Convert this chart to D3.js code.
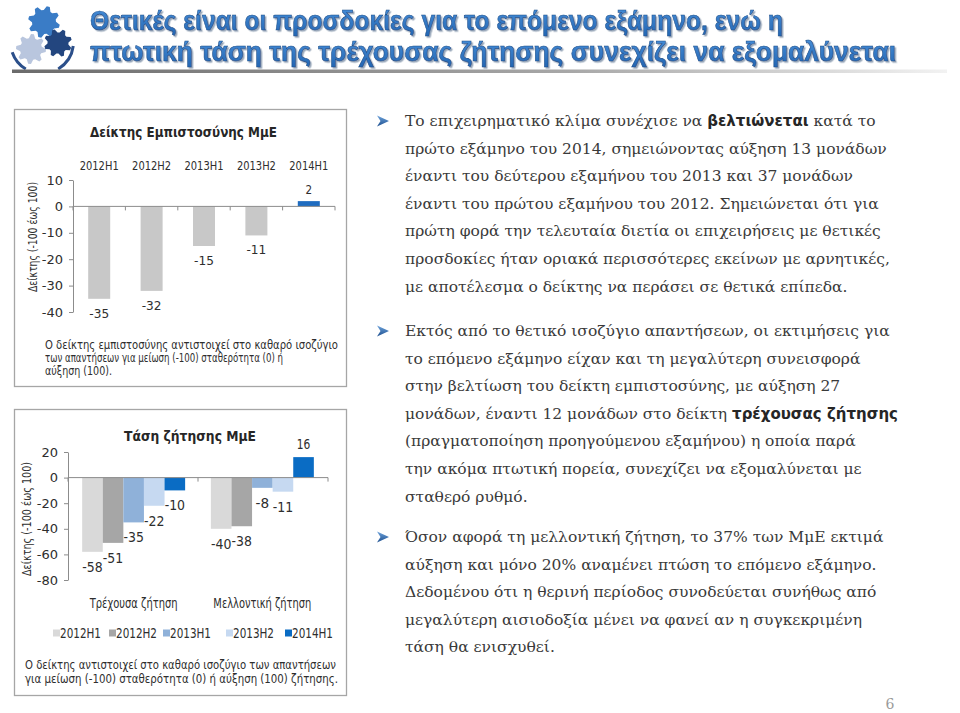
<!DOCTYPE html>
<html>
<head>
<meta charset="utf-8">
<script src="https://cdn.jsdelivr.net/npm/d3@7"></script>
<style>
  html, body { margin: 0; padding: 0; background: #fff; }
  svg { display: block; }
</style>
</head>
<body>
<script>
// ---------------- DATA ----------------
const periods = ["2012H1", "2012H2", "2013H1", "2013H2", "2014H1"];
const confidenceValues = [-35, -32, -15, -11, 2];
const confidenceTicks = [10, 0, -10, -20, -30, -40];

const demandGroups = ["Τρέχουσα ζήτηση", "Μελλοντική ζήτηση"];
const currentDemand = [-58, -51, -35, -22, -10];
const futureDemand = [-40, -38, -8, -11, 16];
const demandTicks = [20, 0, -20, -40, -60, -80];

const headerLines = [
  "Θετικές είναι οι προσδοκίες για το επόμενο εξάμηνο, ενώ η",
  "πτωτική τάση της τρέχουσας ζήτησης συνεχίζει να εξομαλύνεται"
];
const confidenceTitle = "Δείκτης Εμπιστοσύνης ΜμΕ";
const demandTitle = "Τάση ζήτησης ΜμΕ";
const yAxisTitle = "Δείκτης (-100 έως 100)";
const confidenceNote = [
  "Ο δείκτης εμπιστοσύνης αντιστοιχεί στο καθαρό ισοζύγιο",
  "των απαντήσεων για μείωση (-100) σταθερότητα (0) ή",
  "αύξηση (100)."
];
const demandNote = [
  "Ο δείκτης αντιστοιχεί στο καθαρό ισοζύγιο των απαντήσεων",
  "για μείωση (-100) σταθερότητα (0) ή  αύξηση (100) ζήτησης."
];
// body paragraphs: each line is a list of [text, bold]
const paragraphs = [
  [
    [["Το επιχειρηματικό κλίμα συνέχισε να ", false], ["βελτιώνεται", true], [" κατά το", false]],
    [["πρώτο εξάμηνο του 2014, σημειώνοντας αύξηση 13 μονάδων", false]],
    [["έναντι του δεύτερου εξαμήνου του 2013 και 37 μονάδων", false]],
    [["έναντι του πρώτου εξαμήνου του 2012. Σημειώνεται ότι για", false]],
    [["πρώτη φορά την τελευταία διετία οι επιχειρήσεις με θετικές", false]],
    [["προσδοκίες ήταν οριακά περισσότερες εκείνων με αρνητικές,", false]],
    [["με αποτέλεσμα ο δείκτης να περάσει σε θετικά επίπεδα.", false]]
  ],
  [
    [["Εκτός από το θετικό ισοζύγιο απαντήσεων, οι εκτιμήσεις για", false]],
    [["το επόμενο εξάμηνο είχαν και τη μεγαλύτερη συνεισφορά", false]],
    [["στην βελτίωση του δείκτη εμπιστοσύνης, με αύξηση 27", false]],
    [["μονάδων, έναντι 12 μονάδων στο δείκτη ", false], ["τρέχουσας ζήτησης", true]],
    [["(πραγματοποίηση προηγούμενου εξαμήνου) η οποία παρά", false]],
    [["την ακόμα πτωτική πορεία, συνεχίζει να εξομαλύνεται με", false]],
    [["σταθερό ρυθμό.", false]]
  ],
  [
    [["Όσον αφορά τη μελλοντική ζήτηση, το 37% των ΜμΕ εκτιμά", false]],
    [["αύξηση και μόνο 20% αναμένει πτώση το επόμενο εξάμηνο.", false]],
    [["Δεδομένου ότι η θερινή περίοδος συνοδεύεται συνήθως από", false]],
    [["μεγαλύτερη αισιοδοξία μένει να φανεί αν η συγκεκριμένη", false]],
    [["τάση θα ενισχυθεί.", false]]
  ]
];
const pageNumber = "6";

// ---------------- STYLE ----------------
const confidenceColors = ["#c8c8c8", "#c8c8c8", "#c8c8c8", "#c8c8c8", "#1f6cc0"];
const periodColors = ["#d9d9d9", "#a6a6a6", "#8fb1d9", "#c6d9f1", "#0a6cc4"];
const axisColor = "#8c8c8c";
const textColor = "#2e2e2e";
const sans = "'DejaVu Sans', Verdana, sans-serif";

const W = 960, H = 713;
const svg = d3.select("body").append("svg").attr("width", W).attr("height", H);
svg.append("rect").attr("width", W).attr("height", H).attr("fill", "#fff");

const defs = svg.append("defs");
const lg = defs.append("linearGradient").attr("id", "rule").attr("x1", "0").attr("x2", "1");
lg.append("stop").attr("offset", "0").attr("stop-color", "#6b6b6b");
lg.append("stop").attr("offset", "0.6").attr("stop-color", "#a8a8a8");
lg.append("stop").attr("offset", "1").attr("stop-color", "#f2f2f2");
const ag = defs.append("linearGradient").attr("id", "arrowg").attr("x1", "0").attr("x2", "0").attr("y1", "0").attr("y2", "1");
ag.append("stop").attr("offset", "0").attr("stop-color", "#6fa4dc");
ag.append("stop").attr("offset", "1").attr("stop-color", "#1d4f8f");
const hg = defs.append("linearGradient").attr("id", "headg").attr("x1", "0").attr("x2", "0").attr("y1", "0").attr("y2", "1");
hg.append("stop").attr("offset", "0").attr("stop-color", "#4a92dc");
hg.append("stop").attr("offset", "1").attr("stop-color", "#2466b2");
const sh = defs.append("filter").attr("id", "hshadow").attr("x", "-5%").attr("y", "-20%").attr("width", "110%").attr("height", "150%");
sh.append("feDropShadow").attr("dx", 1.5).attr("dy", 1.5).attr("stdDeviation", 0.6)
  .attr("flood-color", "#8a9bb0").attr("flood-opacity", 0.9);

// ---------------- HEADER ----------------
function gearPath(r1, r2, teeth) {
  const pts = [];
  const n = teeth * 4;
  for (let i = 0; i < n; i++) {
    const a = (i / n) * Math.PI * 2;
    const r = (i % 4 === 0 || i % 4 === 1) ? r1 : r2;
    pts.push([Math.cos(a) * r, Math.sin(a) * r]);
  }
  return d3.line().curve(d3.curveLinearClosed)(pts);
}
const logo = svg.append("g");
logo.append("path").attr("d", gearPath(16, 12, 8)).attr("transform", "translate(44,22) rotate(10)").attr("fill", "#3a7cc6");
logo.append("path").attr("d", gearPath(15, 11, 8)).attr("transform", "translate(31,49)").attr("fill", "#b9c6de");
logo.append("path").attr("d", gearPath(14, 10.5, 8)).attr("transform", "translate(58,43) rotate(20)").attr("fill", "#23467f");
logo.append("path").attr("d", d3.arc()({innerRadius: 30, outerRadius: 33, startAngle: -2.6, endAngle: -1.9}))
  .attr("transform", "translate(42,42)").attr("fill", "#2b4f8a");
logo.append("path").attr("d", d3.arc()({innerRadius: 30, outerRadius: 33, startAngle: 1.7, endAngle: 2.6}))
  .attr("transform", "translate(42,42)").attr("fill", "#2b4f8a");

svg.append("rect").attr("x", 12).attr("y", 69.5).attr("width", 935).attr("height", 3.5).attr("fill", "url(#rule)");
const headerG = svg.append("g").attr("filter", "url(#hshadow)");
const headerWidths = [693, 806];
const headerY = [30, 61];
headerLines.forEach((line, i) => {
  headerG.append("text").attr("x", 90).attr("y", headerY[i])
    .attr("font-family", "'Liberation Sans Narrow', 'Liberation Sans', Arial, sans-serif")
    .attr("font-weight", "bold").attr("font-size", 28.5)
    .attr("textLength", headerWidths[i]).attr("lengthAdjust", "spacingAndGlyphs")
    .attr("fill", "url(#headg)").attr("stroke", "#1a4b86").attr("stroke-width", 0.6).text(line);
});

// ---------------- CHART 1: confidence ----------------
const c1 = svg.append("g");
c1.append("rect").attr("x", 14.5).attr("y", 109.5).attr("width", 332).attr("height", 277)
  .attr("fill", "#fff").attr("stroke", "#a6a6a6").attr("stroke-width", 1.3);
c1.append("text").attr("x", 90).attr("y", 137).attr("font-family", sans).attr("font-size", 14)
  .attr("font-weight", "bold").attr("fill", "#262626")
  .attr("textLength", 187).attr("lengthAdjust", "spacingAndGlyphs").text(confidenceTitle);

const x1 = d3.scaleBand().domain(periods).range([73, 335]).paddingInner(0.58).paddingOuter(0.29);
const y1 = d3.scaleLinear().domain([-40, 10]).range([312, 180]);
const conf = periods.map((p, i) => ({p, v: confidenceValues[i], c: confidenceColors[i]}));

const yAx1 = c1.append("g").attr("transform", "translate(73,0)")
  .call(d3.axisLeft(y1).tickValues(confidenceTicks).tickSize(4).tickSizeOuter(0).tickFormat(d => String(d)));
yAx1.selectAll("path,line").attr("stroke", axisColor);
yAx1.selectAll("text").attr("x", -10).attr("font-family", sans).attr("font-size", 13).attr("fill", textColor);

c1.selectAll("rect.bar").data(conf).join("rect").attr("class", "bar")
  .attr("x", d => x1(d.p)).attr("width", x1.bandwidth())
  .attr("y", d => Math.min(y1(d.v), y1(0))).attr("height", d => Math.abs(y1(d.v) - y1(0)))
  .attr("fill", d => d.c);

// zero line with category-boundary ticks
const zeroY1 = y1(0);
c1.append("line").attr("x1", x1.range()[0]).attr("x2", x1.range()[1]).attr("y1", zeroY1).attr("y2", zeroY1).attr("stroke", axisColor);
c1.selectAll("line.bt").data(d3.range(periods.length + 1)).join("line").attr("class", "bt")
  .attr("x1", i => x1.range()[0] + i * x1.step()).attr("x2", i => x1.range()[0] + i * x1.step())
  .attr("y1", zeroY1).attr("y2", zeroY1 + 4).attr("stroke", axisColor);

// category labels at top
const xAx1 = c1.append("g").attr("transform", "translate(0,170)")
  .call(d3.axisTop(x1).tickSize(0).tickPadding(0));
xAx1.select(".domain").remove();
xAx1.selectAll("text").attr("font-family", sans).attr("font-size", 13).attr("fill", textColor)
  .attr("dy", 0).attr("textLength", 39).attr("lengthAdjust", "spacingAndGlyphs");

// data labels
c1.selectAll("text.dl").data(conf).join("text").attr("class", "dl")
  .attr("x", d => x1(d.p) + x1.bandwidth() / 2)
  .attr("y", d => d.v < 0 ? y1(d.v) + 19 : y1(d.v) - 7)
  .attr("text-anchor", "middle").attr("font-family", sans).attr("font-size", 13).attr("fill", textColor)
  .attr("textLength", d => String(d.v).length * 6.6).attr("lengthAdjust", "spacingAndGlyphs")
  .text(d => d.v);

c1.append("text").attr("transform", "translate(37,237) rotate(-90)").attr("text-anchor", "middle")
  .attr("font-family", sans).attr("font-size", 13).attr("fill", textColor)
  .attr("textLength", 110).attr("lengthAdjust", "spacingAndGlyphs").text(yAxisTitle);

const note1W = [293, 238, 67];
confidenceNote.forEach((l, i) => {
  c1.append("text").attr("x", 45).attr("y", 349 + i * 13)
    .attr("font-family", sans).attr("font-size", 11.5).attr("fill", textColor)
    .attr("textLength", note1W[i]).attr("lengthAdjust", "spacingAndGlyphs").text(l);
});

// ---------------- CHART 2: demand ----------------
const c2 = svg.append("g");
c2.append("rect").attr("x", 14.5).attr("y", 409.5).attr("width", 332).attr("height", 286)
  .attr("fill", "#fff").attr("stroke", "#a6a6a6").attr("stroke-width", 1.3);
c2.append("text").attr("x", 124).attr("y", 441).attr("font-family", sans).attr("font-size", 14)
  .attr("font-weight", "bold").attr("fill", "#262626")
  .attr("textLength", 132).attr("lengthAdjust", "spacingAndGlyphs").text(demandTitle);

const x0 = d3.scaleBand().domain(demandGroups).range([68, 328]).paddingInner(0.2).paddingOuter(0.11);
const xs = d3.scaleBand().domain(periods).range([0, x0.bandwidth()]);
const y2 = d3.scaleLinear().domain([-80, 20]).range([580, 452]);
const demand = [currentDemand, futureDemand].map((vals, g) => ({
  g: demandGroups[g],
  items: periods.map((p, i) => ({p, v: vals[i], c: periodColors[i]}))
}));

const yAx2 = c2.append("g").attr("transform", "translate(68,0)")
  .call(d3.axisLeft(y2).tickValues(demandTicks).tickSize(4).tickSizeOuter(0).tickFormat(d => String(d)));
yAx2.selectAll("path,line").attr("stroke", axisColor);
yAx2.selectAll("text").attr("x", -10).attr("font-family", sans).attr("font-size", 13).attr("fill", textColor);

const grp = c2.selectAll("g.grp").data(demand).join("g").attr("class", "grp")
  .attr("transform", d => `translate(${x0(d.g)},0)`);
grp.selectAll("rect").data(d => d.items).join("rect")
  .attr("x", d => xs(d.p)).attr("width", xs.bandwidth())
  .attr("y", d => Math.min(y2(d.v), y2(0))).attr("height", d => Math.abs(y2(d.v) - y2(0)))
  .attr("fill", d => d.c);
grp.selectAll("text").data(d => d.items).join("text")
  .attr("x", d => xs(d.p) + xs.bandwidth() / 2)
  .attr("y", d => d.v < 0 ? y2(d.v) + 20 : y2(d.v) - 8)
  .attr("text-anchor", "middle").attr("font-family", sans).attr("font-size", 13.5).attr("fill", textColor)
  .attr("textLength", d => String(d.v).length * 6.8).attr("lengthAdjust", "spacingAndGlyphs")
  .text(d => d.v);

const zeroY2 = y2(0);
c2.append("line").attr("x1", x0.range()[0]).attr("x2", x0.range()[1]).attr("y1", zeroY2).attr("y2", zeroY2).attr("stroke", axisColor);
c2.selectAll("line.bt").data(d3.range(demandGroups.length + 1)).join("line").attr("class", "bt")
  .attr("x1", i => x0.range()[0] + i * (x0.range()[1] - x0.range()[0]) / demandGroups.length)
  .attr("x2", i => x0.range()[0] + i * (x0.range()[1] - x0.range()[0]) / demandGroups.length)
  .attr("y1", zeroY2).attr("y2", zeroY2 + 4).attr("stroke", axisColor);

const xAx2 = c2.append("g").attr("transform", "translate(0,608)")
  .call(d3.axisBottom(x0).tickSize(0).tickPadding(0));
xAx2.select(".domain").remove();
xAx2.selectAll("text").attr("font-family", sans).attr("font-size", 13.5).attr("fill", textColor)
  .attr("dy", 0)
  .attr("textLength", (d, i) => [88, 98][i]).attr("lengthAdjust", "spacingAndGlyphs");

// legend
const legendX = [53, 109, 163, 226, 285];
const leg = c2.selectAll("g.leg").data(periods).join("g").attr("class", "leg")
  .attr("transform", (d, i) => `translate(${legendX[i]},633)`);
leg.append("rect").attr("x", 0).attr("y", -3.5).attr("width", 7).attr("height", 7)
  .attr("fill", (d, i) => periodColors[i]);
leg.append("text").attr("x", 7).attr("y", 5).attr("font-family", sans).attr("font-size", 13.5)
  .attr("fill", textColor).attr("textLength", 41).attr("lengthAdjust", "spacingAndGlyphs").text(d => d);

c2.append("text").attr("transform", "translate(31,519) rotate(-90)").attr("text-anchor", "middle")
  .attr("font-family", sans).attr("font-size", 13).attr("fill", textColor)
  .attr("textLength", 114).attr("lengthAdjust", "spacingAndGlyphs").text(yAxisTitle);

const note2W = [311, 313];
demandNote.forEach((l, i) => {
  c2.append("text").attr("x", 25).attr("y", 669 + i * 13.5)
    .attr("font-family", sans).attr("font-size", 11.5).attr("fill", textColor)
    .attr("textLength", note2W[i]).attr("lengthAdjust", "spacingAndGlyphs").text(l);
});

// ---------------- BODY TEXT ----------------
const body = svg.append("g");
const paraTop = [126, 336, 542];
const lineH = 27.6;
paragraphs.forEach((para, pi) => {
  const yb = paraTop[pi];
  body.append("path").attr("d", "M0,-5.5 L12,0 L0,5.5 L3.5,0 Z")
    .attr("transform", `translate(377,${yb - 5})`).attr("fill", "url(#arrowg)");
  para.forEach((segs, li) => {
    const t = body.append("text").attr("x", 405).attr("y", yb + li * lineH)
      .attr("font-family", "'DejaVu Serif', 'Liberation Serif', serif").attr("font-size", 15.5)
      .attr("fill", "#3a3a3a");
    segs.forEach(([s, b]) => {
      const ts = t.append("tspan").text(s);
      if (b) ts.attr("font-family", sans).attr("font-weight", "bold").attr("font-size", 15).attr("fill", "#262626");
    });
  });
});
body.append("text").attr("x", 890).attr("y", 709).attr("text-anchor", "middle")
  .attr("font-family", "'DejaVu Serif', serif").attr("font-size", 14).attr("fill", "#9a9a9a").text(pageNumber);
</script>
</body>
</html>
